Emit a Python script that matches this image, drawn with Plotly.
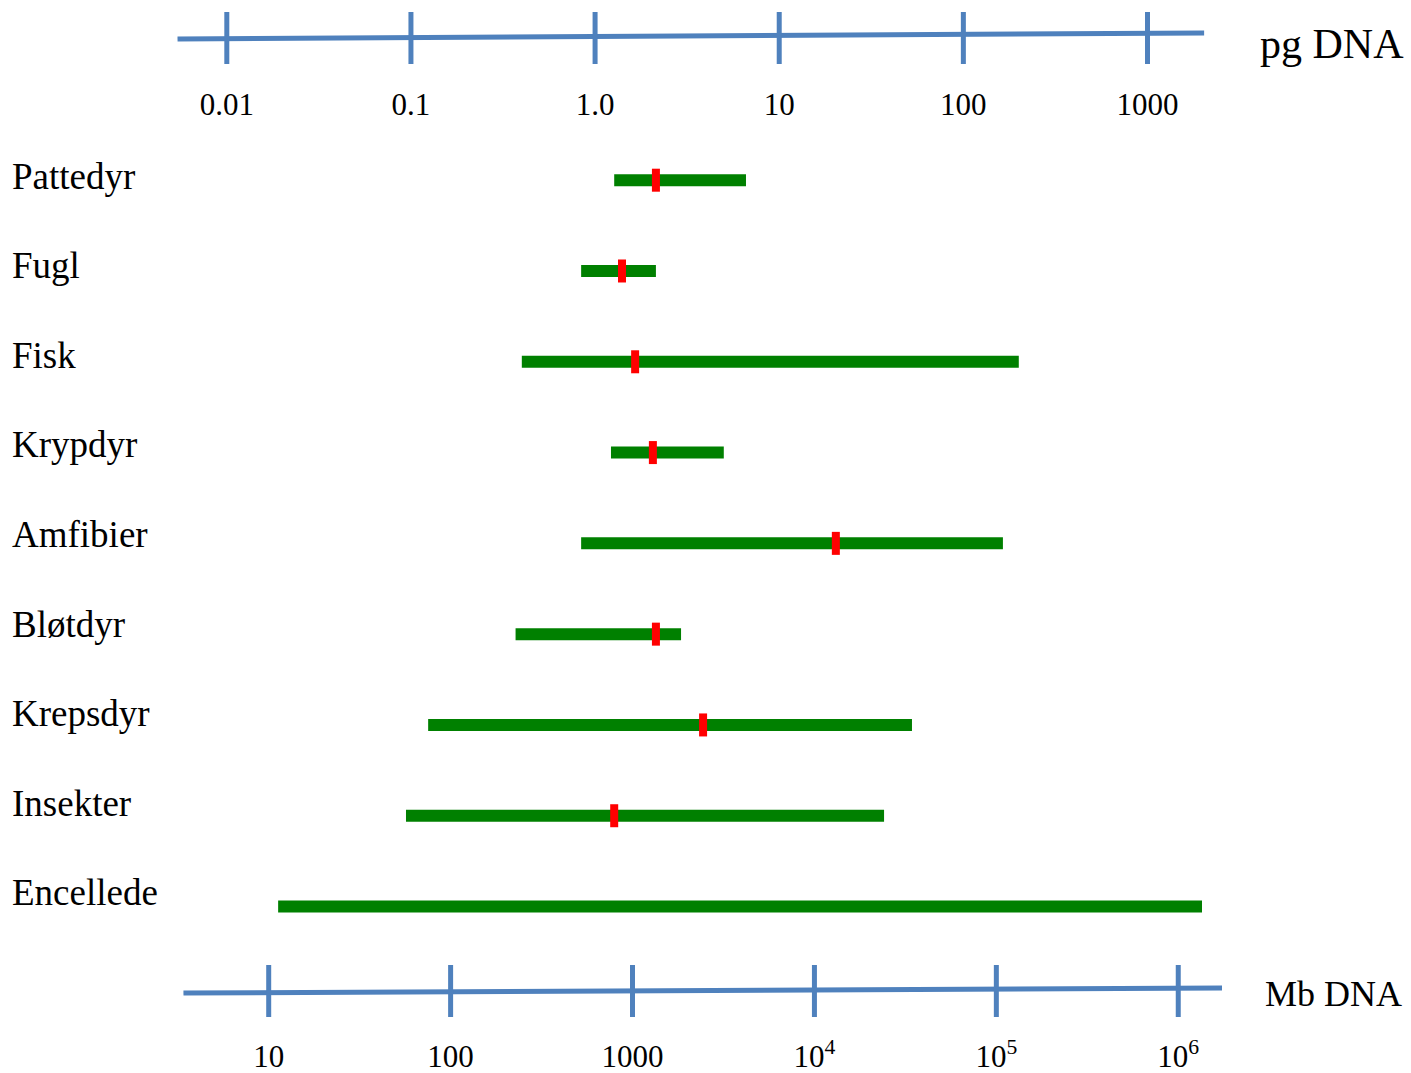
import plotly.graph_objects as go

# ---------------- data ----------------
categories = ["Pattedyr", "Fugl", "Fisk", "Krypdyr", "Amfibier",
              "Bløtdyr", "Krepsdyr", "Insekter", "Encellede"]
pg_min = [1.27, 0.84, 0.40, 1.22, 0.84, 0.37, 0.124, 0.094, 0.019]
pg_max = [6.6, 2.14, 200, 5.0, 164, 2.93, 52.6, 37.1, 1977]
pg_typical = [2.14, 1.40, 1.65, 2.06, 20.3, 2.14, 3.86, 1.27, None]

pg_ticks = [0.01, 0.1, 1, 10, 100, 1000]
pg_tick_labels = ["0.01", "0.1", "1.0", "10", "100", "1000"]
mb_ticks = [10, 100, 1000, 1e4, 1e5, 1e6]
mb_tick_labels = ["10", "100", "1000", "10<sup>4</sup>", "10<sup>5</sup>", "10<sup>6</sup>"]
pg_axis_extent = [0.0054, 2030]
mb_axis_extent = [3.4, 1.74e6]

# ---------------- layout helpers ----------------
W, H = 1411, 1073
ROW0_PX, ROW_PX = 180.2, 90.79      # bar rows
LABEL0_PX, LABEL_PX = 176, 89.6     # category label rows


def row(px):
    """convert a vertical page position into row units of the category axis"""
    return (px - ROW0_PX) / ROW_PX


BLUE = "#4F81BD"
GREEN = "#008000"
RED = "#FF0000"
FONT = "Liberation Serif"
TICK_HALF = 26 / ROW_PX

fig = go.Figure()

# top (pg) axis line and ticks
fig.add_trace(go.Scatter(x=pg_axis_extent, y=[row(39), row(33)], mode="lines",
                         line=dict(color=BLUE, width=5), xaxis="x", yaxis="y",
                         hoverinfo="skip"))
tx, ty = [], []
for v in pg_ticks:
    tx += [v, v, None]
    ty += [row(38) - TICK_HALF, row(38) + TICK_HALF, None]
fig.add_trace(go.Scatter(x=tx, y=ty, mode="lines", line=dict(color=BLUE, width=5),
                         xaxis="x", yaxis="y", hoverinfo="skip"))
fig.add_trace(go.Scatter(x=pg_ticks, y=[row(107)] * len(pg_ticks), mode="text",
                         text=pg_tick_labels, textposition="middle center",
                         textfont=dict(family=FONT, size=31, color="black"),
                         xaxis="x", yaxis="y", hoverinfo="skip"))

# bottom (Mb) axis line and ticks
fig.add_trace(go.Scatter(x=mb_axis_extent, y=[row(993), row(988)], mode="lines",
                         line=dict(color=BLUE, width=5), xaxis="x2", yaxis="y",
                         hoverinfo="skip"))
bx, by = [], []
for v in mb_ticks:
    bx += [v, v, None]
    by += [row(991) - TICK_HALF, row(991) + TICK_HALF, None]
fig.add_trace(go.Scatter(x=bx, y=by, mode="lines", line=dict(color=BLUE, width=5),
                         xaxis="x2", yaxis="y", hoverinfo="skip"))
fig.add_trace(go.Scatter(x=mb_ticks, y=[row(1059)] * len(mb_ticks), mode="text",
                         text=mb_tick_labels, textposition="middle center",
                         textfont=dict(family=FONT, size=31, color="black"),
                         xaxis="x2", yaxis="y", hoverinfo="skip"))

# range bars
for i, (lo, hi) in enumerate(zip(pg_min, pg_max)):
    fig.add_trace(go.Scatter(x=[lo, hi], y=[i, i], mode="lines",
                             line=dict(color=GREEN, width=12),
                             xaxis="x", yaxis="y", hoverinfo="skip"))

# typical values
fig.add_trace(go.Scatter(x=pg_typical, y=list(range(len(categories))), mode="markers",
                         marker=dict(symbol="line-ns", size=23 / 1.4,
                                     line=dict(color=RED, width=8)),
                         xaxis="x", yaxis="y", hoverinfo="skip"))

annotations = []
for i, c in enumerate(categories):
    annotations.append(dict(text=c, x=10 / W, xref="paper", xanchor="left",
                            y=row(LABEL0_PX + LABEL_PX * i), yref="y",
                            yanchor="middle",
                            showarrow=False,
                            font=dict(family=FONT, size=37, color="black")))
annotations.append(dict(text="pg DNA", x=1258 / W, xref="paper", xanchor="left",
                        y=row(44), yref="y", yanchor="middle", showarrow=False,
                        font=dict(family=FONT, size=42, color="black")))
annotations.append(dict(text="Mb DNA", x=1263 / W, xref="paper", xanchor="left",
                        y=row(994), yref="y", yanchor="middle", showarrow=False,
                        font=dict(family=FONT, size=36, color="black")))

fig.update_layout(
    width=W, height=H,
    margin=dict(l=0, r=0, t=0, b=0),
    paper_bgcolor="white", plot_bgcolor="white",
    showlegend=False,
    xaxis=dict(type="log", range=[-3.2317, 4.431], visible=False, domain=[0, 1]),
    xaxis2=dict(type="log", range=[-0.4771, 7.2795], visible=False,
                overlaying="x", anchor="y"),
    yaxis=dict(range=[row(H), row(0)], visible=False),
    annotations=annotations,
)

fig.write_html("out.html")
